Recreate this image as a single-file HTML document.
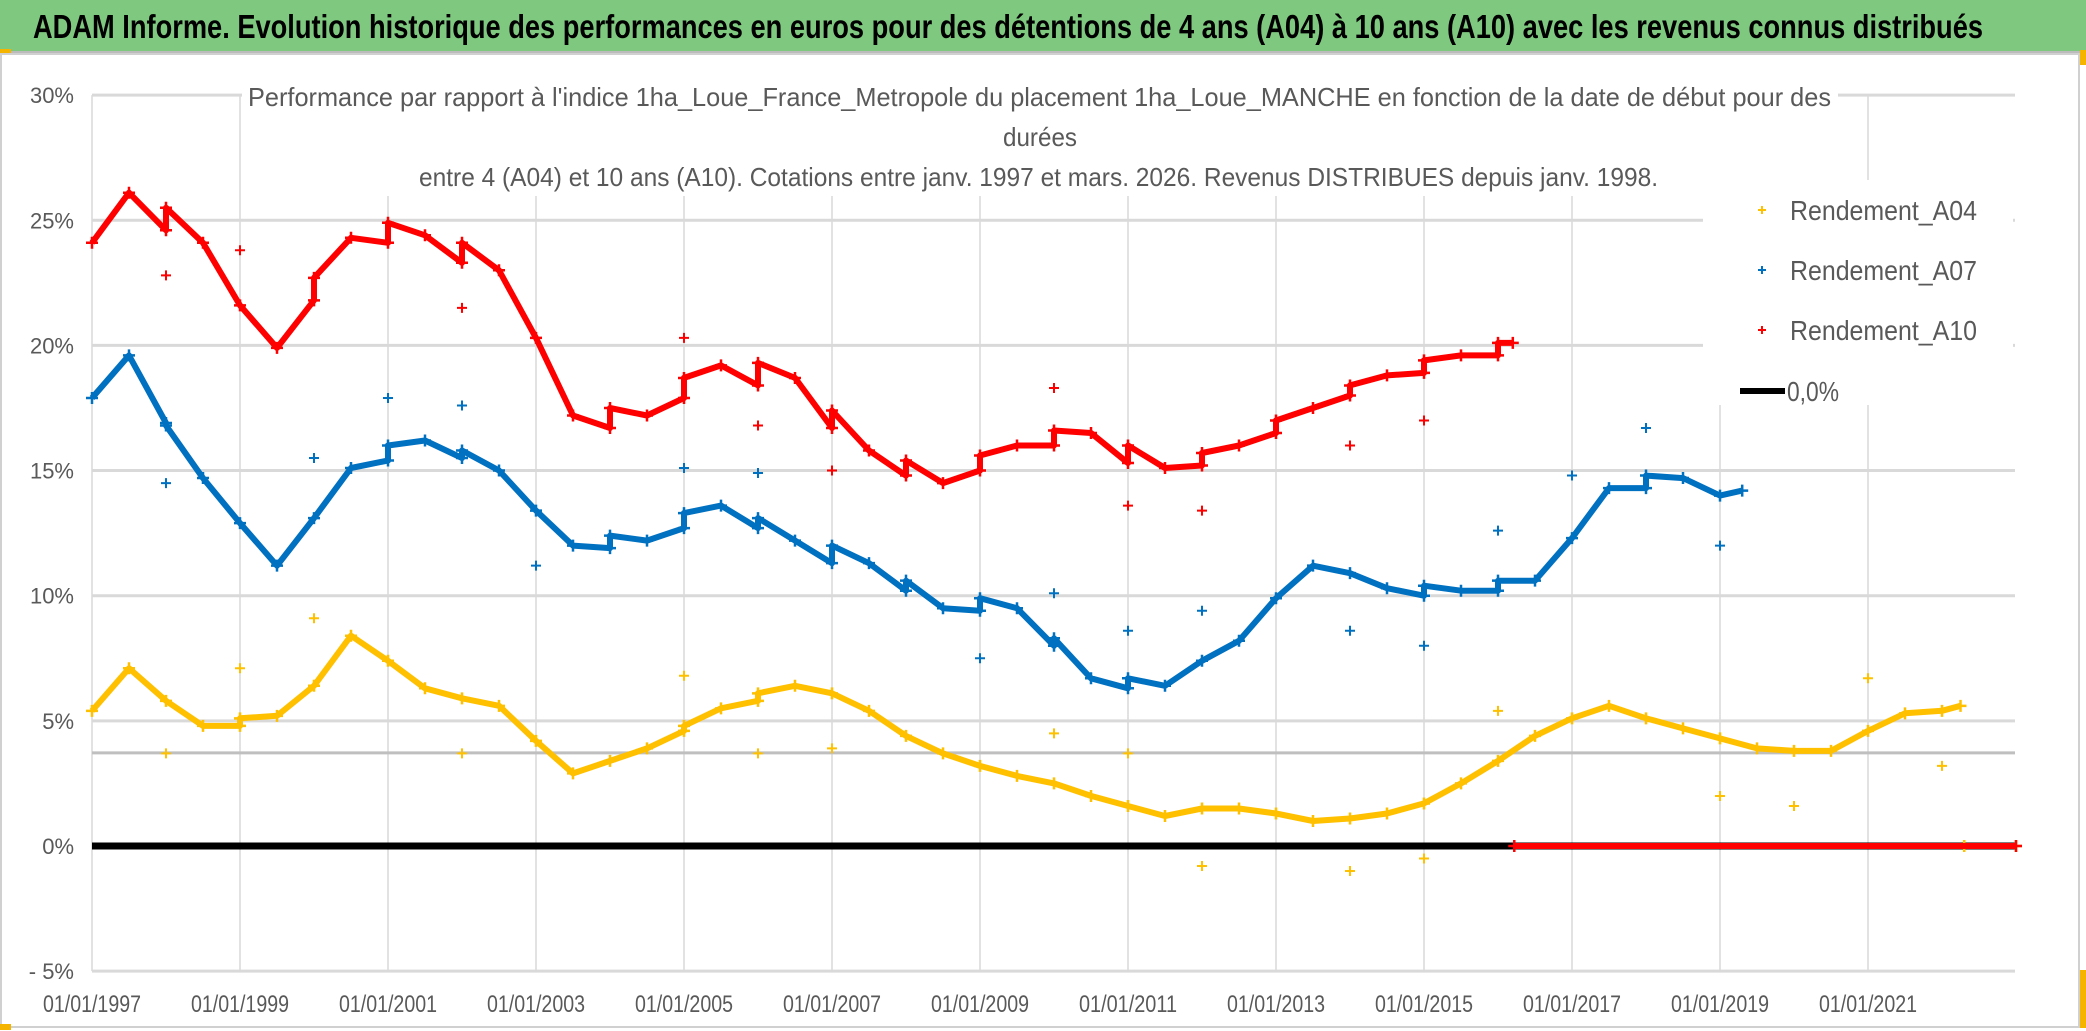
<!DOCTYPE html>
<html><head><meta charset="utf-8"><style>
html,body{margin:0;padding:0;background:#fff;}
svg{display:block;font-family:"Liberation Sans Narrow","Liberation Sans",sans-serif;}
</style></head><body>
<svg id="chart" width="2086" height="1031" viewBox="0 0 2086 1031" xmlns="http://www.w3.org/2000/svg">
<rect x="0" y="0" width="2086" height="1031" fill="#fff"/>
<rect x="0" y="0" width="2086" height="51" fill="#7ec87f"/>
<line x1="0" y1="52" x2="2086" y2="52" stroke="#bbb" stroke-width="2"/>
<text x="33" y="38" font-size="33" font-weight="bold" fill="#000" textLength="1950" lengthAdjust="spacingAndGlyphs">ADAM Informe. Evolution historique des performances en euros pour des détentions de 4 ans (A04) à 10 ans (A10) avec les revenus connus distribués</text>
<rect x="1" y="54" width="2078" height="973" fill="none" stroke="#d0d0d0" stroke-width="2"/>
<rect x="0" y="49" width="11" height="4" fill="#f4b400"/>
<rect x="2080" y="50" width="6" height="15" fill="#f4b400"/>
<rect x="2080" y="970" width="6" height="58" fill="#f4b400"/>
<rect x="0" y="1024" width="11" height="6" fill="#f4b400"/>
<g id="grid"></g>
<g id="ref"></g>
<g id="zero"></g>
<g id="series"></g>
<g id="covers"></g>
<g id="labels"></g>
</svg>
<script>
const yTicks = [-5,0,5,10,15,20,25,30];
const xTickYears = [1997,1999,2001,2003,2005,2007,2009,2011,2013,2015,2017,2019,2021];
const refLevel = 3.72;

const a04Dates = [1997,1997.5,1998,1998.5,1999,1999,1999.5,2000,2000.5,2001,2001.5,2002,2002.5,2003,2003.5,2004,2004.5,2005,2005,2005.5,2006,2006,2006.5,2007,2007.5,2008,2008.5,2009,2009.5,2010,2010.5,2011,2011.5,2012,2012.5,2013,2013.5,2014,2014.5,2015,2015.5,2016,2016.5,2017,2017.5,2018,2018.5,2019,2019.5,2020,2020.5,2021,2021.5,2022,2022.25,2022.3,2023];
const a04Values = [5.4,7.1,5.8,4.8,4.8,5.1,5.2,6.4,8.4,7.4,6.3,5.9,5.6,4.2,2.9,3.4,3.9,4.6,4.8,5.5,5.8,6.1,6.4,6.1,5.4,4.4,3.7,3.2,2.8,2.5,2.0,1.6,1.2,1.5,1.5,1.3,1.0,1.1,1.3,1.7,2.5,3.4,4.4,5.1,5.6,5.1,4.7,4.3,3.9,3.8,3.8,4.6,5.3,5.4,5.6,0,0];
const a04OutDates = [1998,1999,2000,2002,2005,2006,2007,2010,2011,2012,2014,2015,2016,2019,2020,2021,2022];
const a04OutValues = [3.7,7.1,9.1,3.7,6.8,3.7,3.9,4.5,3.7,-0.8,-1.0,-0.5,5.4,2.0,1.6,6.7,3.2];

const a07Dates = [1997,1997.5,1998,1998,1998.5,1999,1999.5,2000,2000.5,2001,2001,2001.5,2002,2002,2002.5,2003,2003.5,2004,2004,2004.5,2005,2005,2005.5,2006,2006,2006.5,2007,2007,2007.5,2008,2008,2008.5,2009,2009,2009.5,2010,2010,2010.5,2011,2011,2011.5,2012,2012.5,2013,2013.5,2014,2014.5,2015,2015,2015.5,2016,2016,2016.5,2017,2017.5,2018,2018,2018.5,2019,2019.3];
const a07Values = [17.9,19.6,16.9,16.8,14.7,12.9,11.2,13.1,15.1,15.4,16.0,16.2,15.5,15.8,15.0,13.4,12.0,11.9,12.4,12.2,12.7,13.3,13.6,12.7,13.1,12.2,11.3,12.0,11.3,10.2,10.6,9.5,9.4,9.9,9.5,8.0,8.3,6.7,6.3,6.7,6.4,7.4,8.2,9.9,11.2,10.9,10.3,10.0,10.4,10.2,10.2,10.6,10.6,12.3,14.3,14.3,14.8,14.7,14.0,14.2];
const a07OutDates = [1998,2000,2001,2002,2003,2005,2006,2009,2010,2011,2012,2014,2015,2016,2017,2018,2019];
const a07OutValues = [14.5,15.5,17.9,17.6,11.2,15.1,14.9,7.5,10.1,8.6,9.4,8.6,8.0,12.6,14.8,16.7,12.0];

const a10Dates = [1997,1997.5,1998,1998,1998.5,1999,1999.5,2000,2000,2000.5,2001,2001,2001.5,2002,2002,2002.5,2003,2003.5,2004,2004,2004.5,2005,2005,2005.5,2006,2006,2006.5,2007,2007,2007.5,2008,2008,2008.5,2009,2009,2009.5,2010,2010,2010.5,2011,2011,2011.5,2012,2012,2012.5,2013,2013,2013.5,2014,2014,2014.5,2015,2015,2015.5,2016,2016,2016.2,2016.22,2023];
const a10Values = [24.1,26.1,24.6,25.5,24.1,21.6,19.9,21.8,22.7,24.3,24.1,24.9,24.4,23.3,24.1,23.0,20.3,17.2,16.7,17.5,17.2,17.9,18.7,19.2,18.4,19.3,18.7,16.7,17.4,15.8,14.8,15.4,14.5,15.0,15.6,16.0,16.0,16.6,16.5,15.3,16.0,15.1,15.2,15.7,16.0,16.5,17.0,17.5,18.0,18.4,18.8,18.9,19.4,19.6,19.6,20.1,20.1,0,0];
const a10OutDates = [1998,1999,2002,2005,2006,2007,2010,2011,2012,2014,2015];
const a10OutValues = [22.8,23.8,21.5,20.3,16.8,15.0,18.3,13.6,13.4,16.0,17.0];

const zeroStart = 1997, zeroEnd = 2023;

const X0 = 92, PX_PER_YEAR = 74.0, Y0 = 846, PX_PER_PCT = 25.03;
const xAxis = d => X0 + (d - 1997) * PX_PER_YEAR;
const yAxis = v => Y0 - v * PX_PER_PCT;
const NS = 'http://www.w3.org/2000/svg';
function mk(tag, attrs, parent){ const e=document.createElementNS(NS,tag); for(const k in attrs) e.setAttribute(k,attrs[k]); parent.appendChild(e); return e; }
const grid=document.getElementById('grid'), ref=document.getElementById('ref'), zero=document.getElementById('zero'), ser=document.getElementById('series'), covers=document.getElementById('covers'), labels=document.getElementById('labels');
const xR = 2015;
yTicks.forEach(t=>{
  const l=mk('line',{x1:X0,x2:xR,y1:yAxis(t),y2:yAxis(t),stroke:'#d9d9d9','stroke-width':3},grid);
  
  
  const tx=mk('text',{x:74,y:yAxis(t)+8,'text-anchor':'end','font-size':22,fill:'#595959'},labels);
  tx.textContent=(t<0?'- '+(-t):t)+'%';
  
  
});
xTickYears.forEach(yr=>{
  const l=mk('line',{x1:xAxis(yr),x2:xAxis(yr),y1:yAxis(30),y2:yAxis(-5),stroke:'#d9d9d9','stroke-width':1.5},grid);
  
  
  const tx=mk('text',{x:xAxis(yr),y:1012,'text-anchor':'middle','font-size':24,fill:'#595959',textLength:98,lengthAdjust:'spacingAndGlyphs'},labels);
  tx.textContent='01/01/'+yr;
  
  
});
const rl=mk('line',{x1:X0,x2:xR,y1:yAxis(refLevel),y2:yAxis(refLevel),stroke:'#bfbfbf','stroke-width':3},ref);


const zl=mk('line',{x1:xAxis(zeroStart),x2:xAxis(zeroEnd),y1:yAxis(0),y2:yAxis(0),stroke:'#000','stroke-width':7},zero);



function plus(x,y,c,s,w,parent){ mk('path',{d:`M${x-s} ${y}H${x+s}M${x} ${y-s}V${y+s}`,stroke:c,'stroke-width':w,fill:'none'},parent); }
function drawSeries(name,dates,vals,od,ov,color){
  const g=mk('g',{},ser);
  
  
  let d='';
  for(let i=0;i<dates.length;i++){
    const x=xAxis(dates[i]), y=yAxis(vals[i]);
    const brk = i===0 || Math.abs(vals[i]-vals[i-1])>3.5;
    d += (brk?'M':'L')+x.toFixed(1)+' '+y.toFixed(1);
  }
  mk('path',{d:d,stroke:color,'stroke-width':6,fill:'none','stroke-linejoin':'round'},g);
  for(let i=0;i<dates.length;i++) plus(xAxis(dates[i]),yAxis(vals[i]),color,6,2.5,g);
  for(let i=0;i<od.length;i++){
    const p=mk('g',{},g);
    
    
    plus(xAxis(od[i]),yAxis(ov[i]),color,5,2,p);
  }
}
drawSeries('series-a04',a04Dates,a04Values,a04OutDates,a04OutValues,'#ffc000');
drawSeries('series-a07',a07Dates,a07Values,a07OutDates,a07OutValues,'#0070c0');
drawSeries('series-a10',a10Dates,a10Values,a10OutDates,a10OutValues,'#ff0000');

const sc=mk('rect',{x:242,y:86,width:1596,height:110,fill:'#fff'},covers);
const lg=mk('rect',{x:1703,y:180,width:310,height:225,fill:'#fff'},covers);


const subs=[['Performance  par rapport à l\'indice 1ha_Loue_France_Metropole  du placement 1ha_Loue_MANCHE en fonction de la date de début pour des',248,106,1583],['durées',1003,146,74],['entre 4 (A04) et 10 ans (A10). Cotations entre janv. 1997 et mars. 2026. Revenus DISTRIBUES depuis janv. 1998.',419,186,1239]];
subs.forEach(s=>{
  const t=mk('text',{x:s[1],y:s[2],'font-size':26,fill:'#595959',textLength:s[3],lengthAdjust:'spacingAndGlyphs'},labels);
  t.textContent=s[0];
  
  
});
const legendItems=[['Rendement_A04','#ffc000',210],['Rendement_A07','#0070c0',270],['Rendement_A10','#ff0000',330]];
legendItems.forEach(li=>{
  const g=mk('g',{},labels);
  
  
  plus(1762,li[2],li[1],4,2,g);
  const t=mk('text',{x:1790,y:li[2]+10,'font-size':28,fill:'#595959',textLength:187,lengthAdjust:'spacingAndGlyphs'},g);
  t.textContent=li[0];
});
const zg=mk('g',{},labels);


mk('line',{x1:1740,x2:1785,y1:391,y2:391,stroke:'#000','stroke-width':6},zg);
const zt=mk('text',{x:1787,y:401,'font-size':28,fill:'#595959',textLength:52,lengthAdjust:'spacingAndGlyphs'},zg);
zt.textContent='0,0%';
</script>
</body></html>
